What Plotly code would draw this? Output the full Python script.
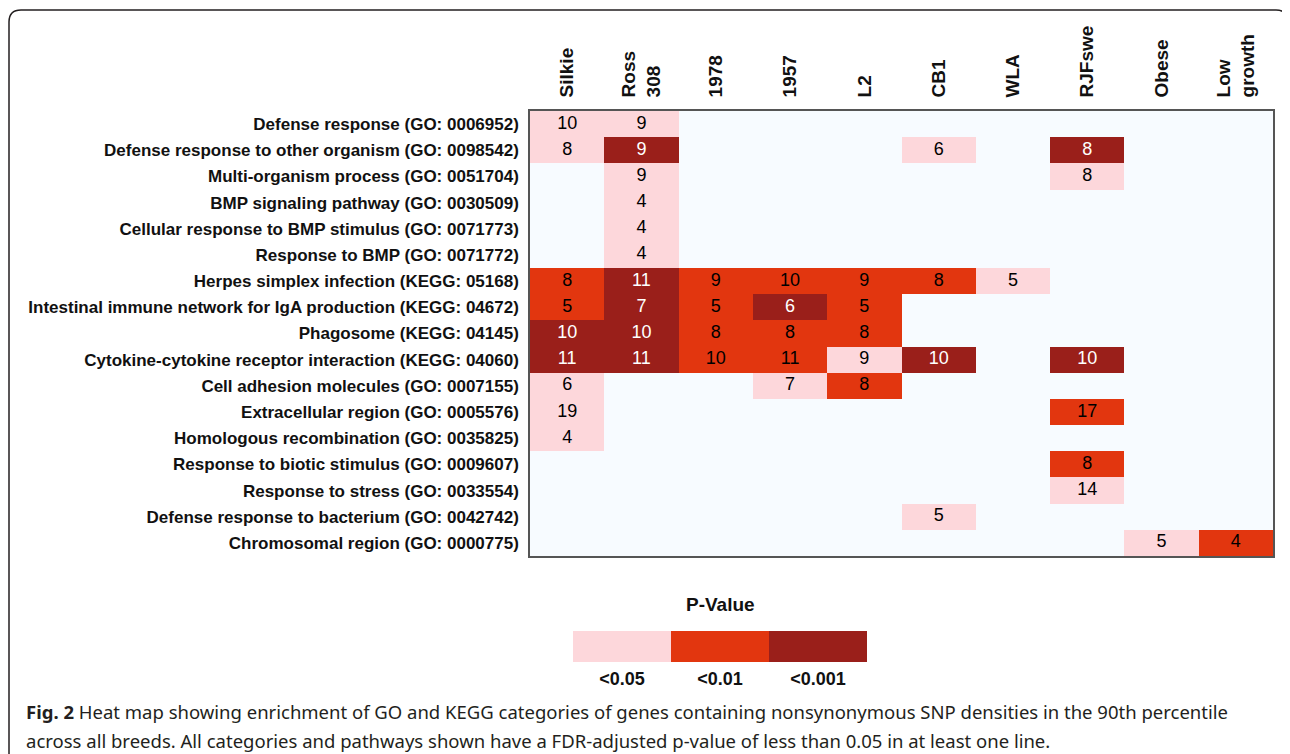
import plotly.graph_objects as go

columns = ["Silkie", "Ross 308", "1978", "1957", "L2", "CB1", "WLA", "RJFswe", "Obese", "Low growth"]
column_labels = ["Silkie", "Ross<br>308", "1978", "1957", "L2", "CB1", "WLA", "RJFswe", "Obese", "Low<br>growth"]
rows = [
    "Defense response (GO: 0006952)",
    "Defense response to other organism (GO: 0098542)",
    "Multi-organism process (GO: 0051704)",
    "BMP signaling pathway (GO: 0030509)",
    "Cellular response to BMP stimulus (GO: 0071773)",
    "Response to BMP (GO: 0071772)",
    "Herpes simplex infection (KEGG: 05168)",
    "Intestinal immune network for IgA production (KEGG: 04672)",
    "Phagosome (KEGG: 04145)",
    "Cytokine-cytokine receptor interaction (KEGG: 04060)",
    "Cell adhesion molecules (GO: 0007155)",
    "Extracellular region (GO: 0005576)",
    "Homologous recombination (GO: 0035825)",
    "Response to biotic stimulus (GO: 0009607)",
    "Response to stress (GO: 0033554)",
    "Defense response to bacterium (GO: 0042742)",
    "Chromosomal region (GO: 0000775)",
]
N = None
# gene counts per cell (None = not significant)
counts = [
    [10, 9, N, N, N, N, N, N, N, N],
    [8, 9, N, N, N, 6, N, 8, N, N],
    [N, 9, N, N, N, N, N, 8, N, N],
    [N, 4, N, N, N, N, N, N, N, N],
    [N, 4, N, N, N, N, N, N, N, N],
    [N, 4, N, N, N, N, N, N, N, N],
    [8, 11, 9, 10, 9, 8, 5, N, N, N],
    [5, 7, 5, 6, 5, N, N, N, N, N],
    [10, 10, 8, 8, 8, N, N, N, N, N],
    [11, 11, 10, 11, 9, 10, N, 10, N, N],
    [6, N, N, 7, 8, N, N, N, N, N],
    [19, N, N, N, N, N, N, 17, N, N],
    [4, N, N, N, N, N, N, N, N, N],
    [N, N, N, N, N, N, N, 8, N, N],
    [N, N, N, N, N, N, N, 14, N, N],
    [N, N, N, N, N, 5, N, N, N, N],
    [N, N, N, N, N, N, N, N, 5, 4],
]
# significance level: 1 = <0.05, 2 = <0.01, 3 = <0.001
levels = [
    [1, 1, N, N, N, N, N, N, N, N],
    [1, 3, N, N, N, 1, N, 3, N, N],
    [N, 1, N, N, N, N, N, 1, N, N],
    [N, 1, N, N, N, N, N, N, N, N],
    [N, 1, N, N, N, N, N, N, N, N],
    [N, 1, N, N, N, N, N, N, N, N],
    [2, 3, 2, 2, 2, 2, 1, N, N, N],
    [2, 3, 2, 3, 2, N, N, N, N, N],
    [3, 3, 2, 2, 2, N, N, N, N, N],
    [3, 3, 2, 2, 1, 3, N, 3, N, N],
    [1, N, N, 1, 2, N, N, N, N, N],
    [1, N, N, N, N, N, N, 2, N, N],
    [1, N, N, N, N, N, N, N, N, N],
    [N, N, N, N, N, N, N, 2, N, N],
    [N, N, N, N, N, N, N, 1, N, N],
    [N, N, N, N, N, 1, N, N, N, N],
    [N, N, N, N, N, N, N, N, 1, 2],
]
legend_levels = [1, 2, 3]
legend_labels = ["<0.05", "<0.01", "<0.001"]

PINK, ORANGE, DARK = "#fdd7db", "#e2360f", "#9a1f1a"
BG = "#f7fbff"
SCALE = [[0, PINK], [1/3, PINK], [1/3, ORANGE], [2/3, ORANGE], [2/3, DARK], [1, DARK]]

# page has an 8px body margin; figure is placed at (8, 8)
OFF = 8
W, H = 1290 - OFF, 754 - OFF


def fx(p):
    return (p - OFF) / W


def fy(p):
    return 1 - (p - OFF) / H


fig = go.Figure()
fig.add_trace(go.Heatmap(
    z=levels, x=columns, y=rows, zmin=0.5, zmax=3.5,
    colorscale=SCALE, showscale=False, hoverongaps=False,
))

# cell numbers
for colour, want in (("black", (1, 2)), ("white", (3,))):
    xs, ys, ts = [], [], []
    for i, r in enumerate(rows):
        for j, c in enumerate(columns):
            if counts[i][j] is not None and levels[i][j] in want:
                xs.append(c); ys.append(r); ts.append(str(counts[i][j]))
    fig.add_trace(go.Scatter(
        x=xs, y=ys, text=ts, mode="text", hoverinfo="skip", showlegend=False,
        textfont=dict(family="Liberation Sans", size=18, color=colour),
    ))

# legend strip
fig.add_trace(go.Heatmap(
    z=[legend_levels], x=legend_labels, y=[0], zmin=0.5, zmax=3.5,
    colorscale=SCALE, showscale=False, xaxis="x2", yaxis="y2", hoverinfo="skip",
))

# rounded outer frame
rad = 12
path = (f"M {fx(9)},{fy(790)} L {fx(9)},{fy(10 + rad)} "
        f"Q {fx(9)},{fy(10)} {fx(9 + rad)},{fy(10)} "
        f"L {fx(1288 - rad)},{fy(10)} Q {fx(1288)},{fy(10)} {fx(1288)},{fy(10 + rad)} "
        f"L {fx(1288)},{fy(790)}")
fig.add_shape(type="path", path=path, xref="paper", yref="paper",
              line=dict(color="#231f20", width=1.5), layer="above")

fig.add_annotation(
    xref="paper", yref="paper", x=fx(720), y=fy(604), xanchor="center", yanchor="middle",
    showarrow=False, text="<b>P-Value</b>",
    font=dict(family="Liberation Sans", size=19, color="#111"),
)

cap1 = ("<b>Fig. 2</b> Heat map showing enrichment of GO and KEGG categories of genes "
        "containing nonsynonymous SNP densities in the 90th percentile")
cap2 = ("across all breeds. All categories and pathways shown have a FDR-adjusted "
        "p-value of less than 0.05 in at least one line.")
for txt, yy in ((cap1, 711), (cap2, 740)):
    fig.add_annotation(
        xref="paper", yref="paper", x=fx(24), y=fy(yy), xanchor="left", yanchor="middle",
        align="left", showarrow=False, text=txt,
        font=dict(family="Noto Sans", size=18.5, color="#231f20"),
    )

fig.update_layout(
    width=W, height=H,
    margin=dict(l=0, r=0, t=0, b=0, pad=0),
    paper_bgcolor="white", plot_bgcolor=BG,
    showlegend=False,
    font=dict(family="Liberation Sans"),
    xaxis=dict(
        domain=[fx(530), fx(1273)], anchor="y",
        side="top", tickangle=-90, tickvals=columns,
        ticktext=[f"<b>{t}</b>" for t in column_labels],
        tickfont=dict(family="Liberation Sans", size=19, color="#111"),
        showgrid=False, zeroline=False, ticks="", ticklabelstandoff=8,
        showline=True, mirror=True, linecolor="#555", linewidth=1.5,
        range=[-0.5, len(columns) - 0.5], automargin=False,
    ),
    yaxis=dict(
        domain=[fy(556), fy(111)], anchor="x",
        range=[len(rows) - 0.5, -0.5], tickvals=rows,
        ticktext=[f"<b>{r}</b>" for r in rows],
        tickfont=dict(family="Liberation Sans", size=17, color="#111"),
        showgrid=False, zeroline=False, ticks="", ticklabelstandoff=6,
        showline=True, mirror=True, linecolor="#555", linewidth=1.5, automargin=False,
    ),
    xaxis2=dict(
        domain=[fx(573), fx(867)], anchor="y2",
        tickvals=legend_labels, ticktext=[f"<b>{t}</b>" for t in legend_labels],
        tickfont=dict(family="Liberation Sans", size=18, color="#111"),
        showgrid=False, zeroline=False, ticks="", ticklabelstandoff=4, showline=False,
        automargin=False,
    ),
    yaxis2=dict(
        domain=[fy(662), fy(631)], anchor="x2",
        showticklabels=False, showgrid=False, zeroline=False, ticks="", showline=False,
        automargin=False,
    ),
)

fig.write_html("out.html")
